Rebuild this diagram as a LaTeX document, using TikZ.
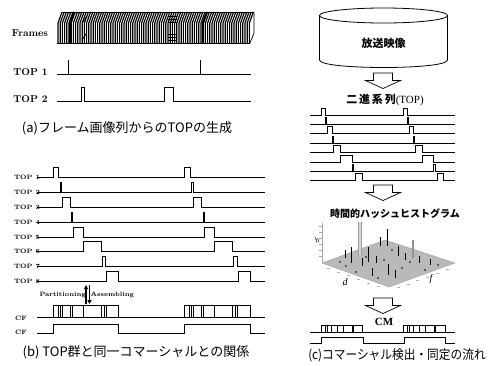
\documentclass[tikz,border=0pt]{standalone}
\usepackage{fontspec}
\newfontfamily\jp{Noto Sans CJK JP}
\newfontfamily\ser{Liberation Serif}
\usetikzlibrary{arrows.meta,calc}
\newcommand\twopulse[8]{% y, h, xs, a1, b1, a2, b2, xe
  \draw[sig] (#3,#1) -- (#4,#1) -- (#4,#1-#2) -- (#5,#1-#2) -- (#5,#1) -- (#6,#1) -- (#6,#1-#2) -- (#7,#1-#2) -- (#7,#1) -- (#8,#1);}
\newcommand\hollowarrow[2]{% x centre, top
  \draw[line width=0.7pt, fill=white] (#1-9.5,#2) -- (#1+9.5,#2) -- (#1+9.5,#2+7.5) -- (#1+17.5,#2+7.5) -- (#1,#2+15.5) -- (#1-17.5,#2+7.5) -- (#1-9.5,#2+7.5) -- cycle;}
\begin{document}
\begin{tikzpicture}[x=1pt,y=-1pt,
  sig/.style={line width=0.7pt, line join=miter},
  lab/.style={font=\bfseries\fontsize{10}{12}\selectfont, inner sep=0pt},
  slab/.style={font=\bfseries\fontsize{6.3}{7}\selectfont, inner sep=0pt},
  captxt/.style={font=\jp\fontsize{13}{15}\selectfont, inner sep=0pt},
  jpb/.style={font=\jp\bfseries\fontsize{11}{13}\selectfont, inner sep=0pt}]
\useasboundingbox (0,0) rectangle (490,365);

% ---------------- (a) ----------------
\node[lab] (frames) at (30,33) {Frames};
\foreach \i in {0,...,87} {
  \pgfmathsetmacro\xx{58+2.2*\i}
  \draw[line width=1.15pt] (\xx,43) -- (\xx,23) -- (\xx+4,12);
}
\draw[line width=0.6pt] (62,12) -- (254,12);
\draw[line width=0.6pt] (57,43) -- (250,43);
\draw[line width=0.7pt] (254,12) -- (254,33) -- (250,43);
\draw[line width=2.2pt] (70,43) -- (70,23) -- (74,12);
\draw[line width=2.2pt] (203,43) -- (203,23) -- (207,12);
\foreach \yy in {16,19,22,34,37,40} \draw[line width=0.9pt] (168,\yy) -- (177,\yy);
\draw[line width=0.9pt] (82,40) -- (86,34) (83,22) -- (87,16);

\node[lab] (top1a) at (30.5,72) {TOP 1};
\node[lab] (top2a) at (30.5,99) {TOP 2};
\draw[sig] (57,74) -- (251,74);
\draw[sig] (68,74) -- (68,60);
\draw[sig] (200,74) -- (200,60);
\twopulse{101}{14}{57}{81}{84}{164}{173}{251}
\node[captxt] (capa) at (127,128) {(a)フレーム画像列からのTOPの生成};

% ---------------- (b) ----------------
\foreach \n/\yy in {1/177,2/192,3/207,4/222,5/237,6/251,7/266,8/281}
  \node[slab] (tb\n) at (27,\yy) {TOP \n};
\twopulse{177}{10}{37}{53}{58}{184}{190}{265}
\twopulse{192}{10}{37}{60}{61.5}{191}{193}{265}
\twopulse{207}{10}{37}{62}{70}{193}{201}{265}
\twopulse{222}{10}{37}{71}{72.5}{203}{204.5}{265}
\twopulse{237}{10}{37}{73}{83}{204}{214}{265}
\twopulse{251}{10}{37}{83}{101}{214}{232}{265}
\twopulse{266}{10}{37}{102}{105}{233}{237}{265}
\twopulse{281}{10}{37}{106}{118}{238}{250}{265}

\node[slab, anchor=east] (part) at (86,295) {Partitioning};
\node[slab, anchor=west] (assem) at (90.5,295) {Assembling};
\coordinate (upb) at (86,304); \coordinate (upt) at (86,285);
\coordinate (dnt) at (89.5,285); \coordinate (dnb) at (89.5,304);
\draw[line width=1.2pt, -{Triangle[length=4pt,width=4pt]}] (upb) -- (upt);
\draw[line width=1.2pt, -{Triangle[length=4pt,width=4pt]}] (dnt) -- (dnb);

\node[slab] (cf1) at (21,318) {CF};
\node[slab] (cf2) at (21,332) {CF};
\draw[sig] (37,317) -- (265,317);
\draw[sig] (53,317) rectangle (118,305);
\draw[sig] (184,317) rectangle (250,305);
\foreach \xx in {58,60.5,62.5,70,72.5,83,101,104,106}
  \draw[line width=0.6pt] (\xx,305) -- (\xx,317) (\xx+131,305) -- (\xx+131,317);
\twopulse{333}{9}{37}{53}{118}{184}{250}{265}
\node[captxt] (capb) at (136,352) {(b) TOP群と同一コマーシャルとの関係};

% ---------------- (c) ----------------
\draw[line width=0.8pt, fill=white] (319.5,15.5) -- (319.5,60) .. controls (319.5,70) and (447.5,70) .. (447.5,60) -- (447.5,15.5);
\draw[line width=0.8pt] (383.5,15.5) ellipse [x radius=64, y radius=7.5];
\node[jpb] (db) at (383.5,43) {放送映像};

\hollowarrow{383}{73}
\node[jpb, font=\jp\bfseries\fontsize{11}{13}\selectfont] (bin) at (385,100) {二\,進\,系\,列{\ser\mdseries\fontsize{11}{13}\selectfont(TOP)}};

\twopulse{115}{7}{310}{321}{325}{403}{407}{455}
\twopulse{124.4}{7}{310}{325}{326.5}{407}{408.5}{455}
\twopulse{133.8}{7}{310}{327}{332}{409}{413}{455}
\twopulse{143.2}{7}{310}{332}{333.5}{413}{414.5}{455}
\twopulse{152.6}{7}{310}{333}{340}{415}{422}{455}
\twopulse{162}{7}{310}{340}{352}{422}{433}{455}
\twopulse{171.4}{7}{310}{352}{353.5}{433}{435}{455}
\twopulse{180.8}{7}{310}{355}{362}{437}{443}{455}

\hollowarrow{383}{185}
\node[jpb, font=\jp\bfseries\fontsize{10}{12}\selectfont] (hist) at (395,214) {時間的ハッシュヒストグラム};

% histogram
\draw[gray!70, line width=0.5pt] (322,223) -- (322,263);
\foreach \yy in {226,232,238,244,250,256} \draw[gray!70, line width=0.6pt] (319,\yy) -- (322,\yy);
\fill[gray!55] (322,263) -- (385,240) -- (455,263) -- (389,287) -- cycle;
\draw[gray!75, line width=0.4pt] (322,263) -- (385,240) -- (455,263) -- (389,287) -- cycle;
\foreach \t in {0.1,0.25,0.4,0.55,0.7,0.85}
  \draw[gray!60, line width=0.6pt] ($(322,263)!\t!(389,287)$) ++(-2,3) -- ++(3,0);
\foreach \t in {0.1,0.25,0.4,0.55,0.7,0.85}
  \draw[gray!60, line width=0.6pt] ($(389,287)!\t!(455,263)$) ++(1,3) -- ++(3,0);
\fill[gray!30] (358,222) rectangle (361,255);
\draw[gray!80, line width=0.4pt] (358,222) -- (358,255) (361,222) -- (361,255);
\foreach \xa/\ya/\yb in {387/229/246, 345/250/258, 351/247/263, 368/247/262, 380/237/246, 372/268/276, 388/264/275, 419/256/263, 398/246/256, 405/253/260, 430/259/265, 362/258/266, 376/256/263, 395/270/278}
  \draw[line width=1pt] (\xa,\ya) -- (\xa,\yb);
\fill[gray!85] (412,240) rectangle (414,258);
\foreach \xa/\ya in {340/262, 356/272, 366/257, 384/260, 402/268, 410/262, 438/265, 425/270, 392/250, 346/266, 378/278}
  \fill (\xa,\ya) circle (0.9);
\node[font=\ser\itshape\fontsize{8}{9}\selectfont, inner sep=0pt, rotate=20] (hh) at (317,240) {h};
\node[font=\ser\itshape\fontsize{10}{11}\selectfont, inner sep=0pt] (dd) at (345,282) {d};
\node[font=\ser\itshape\fontsize{10}{11}\selectfont, inner sep=0pt] (ff) at (431,279) {f};

\hollowarrow{383}{298}
\node[font=\ser\bfseries\fontsize{11}{12}\selectfont, inner sep=0pt] (cm) at (384,322) {CM};
\draw[sig] (310,332) -- (455,332);
\draw[sig] (321,332) rectangle (362,325);
\draw[sig] (403,332) rectangle (445,325);
\foreach \xx in {325,327,331,337,343,352,353.5}
  \draw[line width=0.6pt] (\xx,325) -- (\xx,332) (\xx+82,325) -- (\xx+82,332);
\twopulse{343}{6}{310}{321}{363}{404}{445}{455}
\node[captxt, xscale=0.9] (capc) at (397,355) {(c)コマーシャル検出・同定の流れ};
\end{tikzpicture}
\end{document}
